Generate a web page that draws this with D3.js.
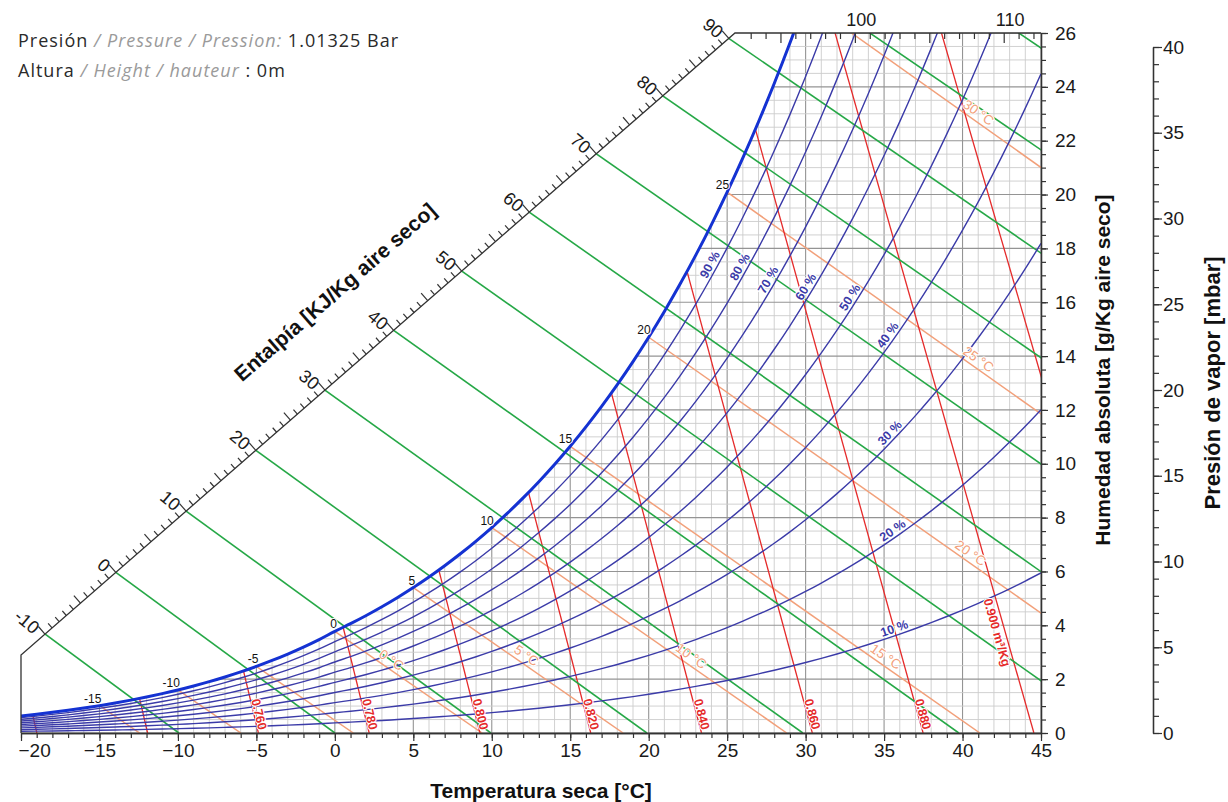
<!DOCTYPE html>
<html>
<head>
<meta charset="utf-8">
<script src="https://cdn.jsdelivr.net/npm/d3@7/dist/d3.min.js"></script>
<style>
  body { margin: 0; background: #fff; }
  svg { display: block; }
</style>
</head>
<body>
<svg width="1228" height="802"></svg>
<script>
// ---- datos ----
var tempTicks = [-20, -15, -10, -5, 0, 5, 10, 15, 20, 25, 30, 35, 40, 45];
var humidityTicks = [0, 2, 4, 6, 8, 10, 12, 14, 16, 18, 20, 22, 24, 26];
var vaporTicks = [0, 5, 10, 15, 20, 25, 30, 35, 40];

// presión de saturación [mbar] (hielo bajo 0 °C)
var satTemps = [-20, -19, -18, -17, -16, -15, -14, -13, -12, -11, -10, -9, -8, -7, -6, -5, -4, -3, -2, -1,
  0, 1, 2, 3, 4, 5, 6, 7, 8, 9, 10, 11, 12, 13, 14, 15, 16, 17, 18, 19, 20, 21, 22, 23, 24, 25,
  26, 27, 28, 29, 30, 31, 32, 33, 34, 35, 36, 37, 38, 39, 40, 41, 42, 43, 44, 45];
var satPressure = [1.032, 1.135, 1.248, 1.371, 1.506, 1.652, 1.811, 1.984, 2.172, 2.376, 2.597, 2.837, 3.097, 3.379, 3.684, 4.014, 4.371, 4.756, 5.172, 5.620,
  6.112, 6.571, 7.060, 7.581, 8.135, 8.726, 9.354, 10.021, 10.730, 11.483, 12.282, 13.129, 14.028, 14.981, 15.989, 17.057, 18.188, 19.383, 20.647, 21.983, 23.393, 24.882, 26.453, 28.111, 29.858, 31.699,
  33.639, 35.681, 37.831, 40.092, 42.470, 44.969, 47.596, 50.354, 53.251, 56.290, 59.479, 62.823, 66.328, 70.002, 73.849, 77.878, 82.096, 86.508, 91.124, 95.950];

var rhLevels = [10, 20, 30, 40, 50, 60, 70, 80, 90];
var rhLabelTemps = [35.8, 35.8, 35.7, 35.6, 33.2, 30.4, 28, 26.2, 24.3];

var enthalpyLevels = [-10, 0, 10, 20, 30, 40, 50, 60, 70, 80, 90, 100, 110];

var wetBulbLevels = [-15, -10, -5, 0, 5, 10, 15, 20, 25, 30];
var satLabelLevels = [-15, -10, -5, 0, 5, 10, 15, 20, 25];
var wetBulbLabels = [0, 5, 10, 15, 20, 25, 30];
var wetBulbLabelTemps = [3.3, 11.9, 22.4, 34.8, 40.2, 40.7, 40.7];

var volumeLevels = [0.72, 0.74, 0.76, 0.78, 0.80, 0.82, 0.84, 0.86, 0.88, 0.90, 0.92];
var volumeLabels = [0.76, 0.78, 0.80, 0.82, 0.84, 0.86, 0.88, 0.90];

var pressure = 1013.25; // mbar

// ---- colores ----
var rhColor = "#3b3ba8", satColor = "#1432d2", greenColor = "#26a847",
    orangeColor = "#f2a07a", redColor = "#e52a2a", axisColor = "#333";

var svg = d3.select("svg").attr("font-family", "'Liberation Sans', Arial, sans-serif");

var x = d3.scaleLinear().domain([-20, 45]).range([21, 1041]);
var y = d3.scaleLinear().domain([0, 26]).range([733, 33]);
var yVapor = d3.scaleLinear().domain([0, 40]).range([733, 47]);

// psicrometría
function wFromPv(pv) { return 622 * pv / (pressure - pv); }
function tOnEnthalpy(h, w) { w /= 1000; return (h - 2501 * w) / (1.006 + 1.86 * w); }
function tOnVolume(v, w) { w /= 1000; return v * 101.325 / (0.287042 * (1 + 1.607858 * w)) - 273.15; }
function tOnWetBulb(twb, ws, w) {
  ws /= 1000; w /= 1000;
  return ((2501 - 2.326 * twb) * ws + 1.006 * twb - w * (2501 - 4.186 * twb)) / (1.006 + 1.86 * w);
}
function pvAt(t) { // sólo para colocar etiquetas
  var i = Math.min(Math.floor(t - satTemps[0]), satTemps.length - 2);
  var f = t - satTemps[i];
  return satPressure[i] * (1 - f) + satPressure[i + 1] * f;
}

var satPts = satTemps.map(function(t, i) { return {t: t, w: wFromPv(satPressure[i])}; });
function satW(t) { return satPts[satTemps.indexOf(t)].w; }

var curve = d3.line().x(function(d) { return x(d.t); }).y(function(d) { return y(d.w); }).curve(d3.curveMonotoneX);
var seg = d3.line().x(function(d) { return x(d.t); }).y(function(d) { return y(d.w); });

// eje diagonal de entalpía
var diagStart = {t: -20, w: 2.9}, diagEnd = {t: 25.5, w: 26};
var d0 = [x(diagStart.t), y(diagStart.w)], d1 = [x(diagEnd.t), y(diagEnd.w)];

// ---- clips ----
var defs = svg.append("defs");
defs.append("clipPath").attr("id", "frame").append("path")
  .attr("d", "M" + [x(-20), y(0)] + "L" + d0 + "L" + d1 + "L" + [x(45), y(26)] + "L" + [x(45), y(0)] + "Z");
defs.append("clipPath").attr("id", "undersat").append("path")
  .attr("d", d3.area().x(function(d) { return x(d.t); }).y0(y(0)).y1(function(d) { return y(d.w); })
    .curve(d3.curveMonotoneX)(satPts));

var plot = svg.append("g").attr("clip-path", "url(#frame)");
var under = plot.append("g").attr("clip-path", "url(#undersat)");

// rejilla
under.append("g").selectAll("line").data(d3.range(-20, 46, 1)).enter().append("line")
  .attr("x1", function(d) { return x(d); }).attr("x2", function(d) { return x(d); })
  .attr("y1", y(0)).attr("y2", y(26))
  .attr("stroke", function(d) { return d % 5 === 0 ? "#949494" : "#cccccc"; })
  .attr("stroke-width", function(d) { return d % 5 === 0 ? 1.1 : 0.9; });
under.append("g").selectAll("line").data(d3.range(0, 26.01, 0.5)).enter().append("line")
  .attr("y1", function(d) { return y(d); }).attr("y2", function(d) { return y(d); })
  .attr("x1", x(-20)).attr("x2", x(45))
  .attr("stroke", function(d) { return d % 2 === 0 ? "#949494" : "#cccccc"; })
  .attr("stroke-width", function(d) { return d % 2 === 0 ? 1.1 : 0.9; });

// bulbo húmedo
under.append("g").selectAll("path").data(wetBulbLevels).enter().append("path")
  .attr("d", function(twb) {
    var ws = satW(twb);
    return seg([{t: twb, w: ws}, {t: tOnWetBulb(twb, ws, 0), w: 0}]);
  })
  .attr("fill", "none").attr("stroke", orangeColor).attr("stroke-width", 1.5);

// volumen específico
under.append("g").selectAll("path").data(volumeLevels).enter().append("path")
  .attr("d", function(v) { return seg([{t: tOnVolume(v, 0), w: 0}, {t: tOnVolume(v, 30), w: 30}]); })
  .attr("fill", "none").attr("stroke", redColor).attr("stroke-width", 1.3);

// entalpía
plot.append("g").selectAll("path").data(enthalpyLevels).enter().append("path")
  .attr("d", function(h) { return seg([{t: tOnEnthalpy(h, 0), w: 0}, {t: tOnEnthalpy(h, 34), w: 34}]); })
  .attr("fill", "none").attr("stroke", greenColor).attr("stroke-width", 1.6);

// humedad relativa
plot.append("g").selectAll("path").data(rhLevels).enter().append("path")
  .attr("d", function(r) {
    return curve(satTemps.map(function(t, i) { return {t: t, w: wFromPv(r / 100 * satPressure[i])}; }));
  })
  .attr("fill", "none").attr("stroke", rhColor).attr("stroke-width", 1.4);

// saturación
plot.append("path").attr("d", curve(satPts))
  .attr("fill", "none").attr("stroke", satColor).attr("stroke-width", 3);

// ---- marco y ejes ----
var frame = svg.append("g").attr("stroke", axisColor).attr("stroke-width", 1.3).attr("fill", "none");
frame.append("path").attr("d", "M" + [x(-20), y(0)] + "L" + d0 + "L" + d1 + "L" + [x(45), y(26)]);

function styleAxis(g) {
  g.attr("font-family", null).attr("font-size", 19);
  g.selectAll("path.domain").attr("stroke", axisColor).attr("stroke-width", 1.3);
  g.selectAll(".tick line").attr("stroke", axisColor).attr("stroke-width", 1.2);
  g.selectAll(".tick text").attr("fill", "#1a1a1a");
}

svg.append("g").attr("transform", "translate(0," + y(0) + ")")
  .call(d3.axisBottom(x).tickValues(d3.range(-20, 46, 1)).tickSize(5).tickSizeOuter(0).tickFormat(""))
  .call(styleAxis);
var xAxis = svg.append("g").attr("transform", "translate(0," + y(0) + ")")
  .call(d3.axisBottom(x).tickValues(tempTicks).tickSize(8).tickSizeOuter(0).tickPadding(3))
  .call(styleAxis);
xAxis.selectAll(".tick text").filter(function(d) { return d === -20; }).attr("text-anchor", "start").attr("x", -3);

svg.append("g").attr("transform", "translate(" + x(45) + ",0)")
  .call(d3.axisRight(y).tickValues(d3.range(0, 26.01, 0.5)).tickSize(5).tickSizeOuter(0).tickFormat(""))
  .call(styleAxis);
svg.append("g").attr("transform", "translate(" + x(45) + ",0)")
  .call(d3.axisRight(y).tickValues(humidityTicks).tickSize(7).tickSizeOuter(0).tickPadding(7))
  .call(styleAxis);

svg.append("g").attr("transform", "translate(1153,0)")
  .call(d3.axisRight(yVapor).tickValues(d3.range(0, 41, 1)).tickSize(6).tickSizeOuter(0).tickFormat(""))
  .call(styleAxis);
svg.append("g").attr("transform", "translate(1153,0)")
  .call(d3.axisRight(yVapor).tickValues(vaporTicks).tickSize(9).tickSizeOuter(0).tickPadding(1))
  .call(styleAxis);

// marcas de entalpía (diagonal y borde superior)
var dir = [d1[0] - d0[0], d1[1] - d0[1]];
var len = Math.hypot(dir[0], dir[1]);
var nrm = [dir[1] / len, -dir[0] / len];
var diagTicks = [], topTicks = [];
d3.range(-10, 113, 1).forEach(function(h) {
  var a = [x(tOnEnthalpy(h, 0)), y(0)], b = [x(tOnEnthalpy(h, 34)), y(34)];
  var r = [b[0] - a[0], b[1] - a[1]];
  var den = r[0] * dir[1] - r[1] * dir[0];
  var s = ((d0[0] - a[0]) * r[1] - (d0[1] - a[1]) * r[0]) / den;
  if (s >= 0 && s <= 1) {
    diagTicks.push({h: h, p: [d0[0] + s * dir[0], d0[1] + s * dir[1]]});
  } else {
    var xt = x(tOnEnthalpy(h, 26));
    if (xt > d1[0] + 2 && xt <= x(45)) topTicks.push({h: h, x: xt});
  }
});

var eTicks = svg.append("g").attr("stroke", axisColor).attr("stroke-width", 1.2);
eTicks.selectAll("line.d").data(diagTicks).enter().append("line")
  .attr("x1", function(d) { return d.p[0]; }).attr("y1", function(d) { return d.p[1]; })
  .attr("x2", function(d) { return d.p[0] + nrm[0] * (d.h % 5 === 0 ? 10 : 6); })
  .attr("y2", function(d) { return d.p[1] + nrm[1] * (d.h % 5 === 0 ? 10 : 6); });
eTicks.selectAll("line.t").data(topTicks).enter().append("line")
  .attr("x1", function(d) { return d.x; }).attr("x2", function(d) { return d.x; })
  .attr("y1", y(26)).attr("y2", function(d) { return y(26) + (d.h % 5 === 0 ? 10 : 6); });

svg.append("g").attr("font-size", 18).attr("fill", "#1a1a1a")
  .selectAll("text").data(diagTicks.filter(function(d) { return d.h % 10 === 0; })).enter().append("text")
  .attr("transform", function(d) { return "translate(" + (d.p[0] - 8) + "," + (d.p[1] - 4) + ") rotate(40)"; })
  .attr("text-anchor", "end").attr("dy", "0.35em")
  .text(function(d) { return d.h; });
svg.append("g").attr("font-size", 18).attr("fill", "#1a1a1a")
  .selectAll("text").data(topTicks.filter(function(d) { return d.h % 10 === 0; })).enter().append("text")
  .attr("x", function(d) { return d.x + 6; }).attr("y", 26).attr("text-anchor", "middle")
  .text(function(d) { return d.h; });

// ---- etiquetas de curvas ----
function halo(sel, w) { return sel.attr("stroke", "#fff").attr("stroke-width", w).attr("paint-order", "stroke"); }

var rhG = svg.append("g").attr("font-size", 12.5).attr("font-weight", "bold").attr("fill", rhColor);
rhLevels.forEach(function(r, i) {
  var pt = function(t) { return [x(t), y(wFromPv(r / 100 * pvAt(t)))]; };
  var t = rhLabelTemps[i], p = pt(t), a = pt(t - 0.4), b = pt(t + 0.4);
  var ang = Math.atan2(b[1] - a[1], b[0] - a[0]) * 180 / Math.PI;
  rhG.append("text").attr("transform", "translate(" + p + ") rotate(" + ang + ")")
    .attr("text-anchor", "middle").attr("dy", -3).text(r + " %").call(halo, 2.5);
});

svg.append("g").attr("font-size", 12).attr("fill", "#111")
  .selectAll("text").data(satLabelLevels).enter().append("text")
  .attr("x", function(t) { return x(t) + 2; }).attr("y", function(t) { return y(satW(t)) - 3; })
  .attr("text-anchor", "end").text(function(t) { return t; }).call(halo, 2);

var wbG = svg.append("g").attr("font-size", 13.5).attr("fill", orangeColor);
wetBulbLabels.forEach(function(twb, i) {
  var ws = satW(twb);
  var tEnd = tOnWetBulb(twb, ws, 0);
  var t = wetBulbLabelTemps[i];
  var w = ws * (tEnd - t) / (tEnd - twb);
  var ang = Math.atan2(y(0) - y(ws), x(tEnd) - x(twb)) * 180 / Math.PI;
  wbG.append("text").attr("transform", "translate(" + x(t) + "," + y(w) + ") rotate(" + ang + ")")
    .attr("text-anchor", "middle").attr("dy", -4).text(twb + " °C").call(halo, 2);
});

var volG = svg.append("g").attr("font-size", 12.5).attr("font-weight", "bold").attr("fill", redColor);
volumeLabels.forEach(function(v) {
  var last = v === 0.90;
  var wl = last ? 3.8 : 0.65;
  var ang = Math.atan2(y(0) - y(30), x(tOnVolume(v, 0)) - x(tOnVolume(v, 30))) * 180 / Math.PI;
  volG.append("text").attr("transform", "translate(" + x(tOnVolume(v, wl)) + "," + y(wl) + ") rotate(" + ang + ")")
    .attr("text-anchor", "middle").attr("dy", last ? 11 : -1)
    .text(d3.format(".3f")(v) + (last ? " m³/Kg" : "")).call(halo, 2);
});

// ---- títulos ----
var titles = svg.append("g").attr("font-weight", "bold").attr("font-size", 21).attr("fill", "#111");
titles.append("text").attr("x", 541).attr("y", 798).attr("text-anchor", "middle").text("Temperatura seca [°C]");
titles.append("text").attr("transform", "translate(1110,370) rotate(-90)").attr("text-anchor", "middle")
  .text("Humedad absoluta [g/Kg aire seco]");
titles.append("text").attr("transform", "translate(1220,383) rotate(-90)").attr("text-anchor", "middle")
  .attr("font-size", 22).text("Presión de vapor [mbar]");
titles.append("text").attr("transform", "translate(335,292) rotate(-41)").attr("text-anchor", "middle")
  .attr("dy", "0.35em").text("Entalpía [KJ/Kg aire seco]");

var header = svg.append("g").style("font-family", "'Open Sans', Lato, sans-serif")
  .attr("font-size", 18).attr("letter-spacing", 1).attr("fill", "#2a2a2a");
var l1 = header.append("text").attr("x", 18).attr("y", 47);
l1.append("tspan").text("Presión");
l1.append("tspan").attr("fill", "#9a9a9a").attr("font-style", "italic").text(" / Pressure / Pression:");
l1.append("tspan").text(" 1.01325 Bar");
var l2 = header.append("text").attr("x", 18).attr("y", 77);
l2.append("tspan").text("Altura");
l2.append("tspan").attr("fill", "#9a9a9a").attr("font-style", "italic").text(" / Height / hauteur");
l2.append("tspan").text(" : 0m");
</script>
</body>
</html>
